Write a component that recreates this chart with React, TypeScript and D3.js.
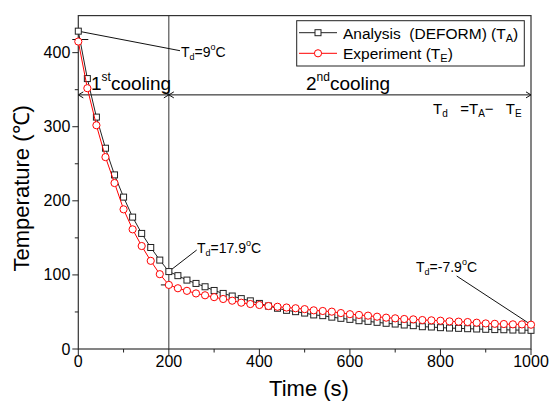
import React from "react";
import * as d3 from "d3";

const times = [0,20,40,60,80,100,120,140,160,180,200,220,240,260,280,300,320,340,360,380,400,420,440,460,480,500,520,540,560,580,600,620,640,660,680,700,720,740,760,780,800,820,840,860,880,900,920,940,960,980,1000];
const analysis = [429,365,313,271,235,205,178,156,137,120,104.5,99,93,88.5,84,79,75,71.5,68,65,61.5,58,55,52.2,50.4,48.5,46,45,43,41.4,40,38.2,37.3,36,34.7,33.7,32.4,31.5,30.1,29.7,28.8,28.3,27.9,27.4,27,26.6,26.2,26,25.6,25.5,25.2];
const experiment = [415,352,302,259,224,188.5,161.5,139,119,101,86.5,82,78.5,75,72.5,70,67.5,65.2,62.5,60.7,59.4,58,57,56,55,53.8,52.2,51.3,50.4,48.5,47,46,45,43.6,42.3,41.4,40.5,40,39.1,38.7,38.2,37.3,36.9,36.4,35.5,34.5,34,33.7,33.3,33.2,32.8];
const xTicks = [0,200,400,600,800,1000];
const xMinor = [100,300,500,700,900];
const yTicks = [0,100,200,300,400];
const yMinor = [50,150,250,350];

const FONT = "Liberation Sans, Arial, sans-serif";

export default function App() {
  const x = d3.scaleLinear().domain([0, 1000]).range([78.3, 531]);
  const y = d3.scaleLinear().domain([0, 450]).range([349, 15.6]);
  const left = x(0), right = x(1000), bottom = y(0), top = y(450);

  const lineGen = d3.line<number>().x((_, i) => x(times[i])).y((d) => y(d));

  const arrowY = y(343);
  const midX = x(200);
  const ah = 5, aw = 3;
  const arrowPath = [
    `M${left},${arrowY}H${right}`,
    `M${left + ah},${arrowY - aw}L${left},${arrowY}L${left + ah},${arrowY + aw}`,
    `M${midX - ah},${arrowY - aw}L${midX},${arrowY}L${midX - ah},${arrowY + aw}`,
    `M${midX + ah},${arrowY - aw}L${midX},${arrowY}L${midX + ah},${arrowY + aw}`,
    `M${right - ah},${arrowY - aw}L${right},${arrowY}L${right - ah},${arrowY + aw}`,
  ].join("");

  const sq = 6;
  const cr = 3.6;
  const pre = { whiteSpace: "pre" as const };

  return (
    <svg width={555} height={403} style={{ position: "absolute", left: 0, top: 0, background: "#fff" }} fontFamily={FONT}>
      {/* frame */}
      <rect x={left} y={top} width={right - left} height={bottom - top} fill="none" stroke="#333" strokeWidth={1.2} />
      {/* x ticks */}
      {xTicks.map((t) => (
        <g key={"xt" + t}>
          <line x1={x(t)} x2={x(t)} y1={bottom} y2={bottom + 6} stroke="#222" />
          <text x={x(t)} y={bottom + 18} fontSize={16} textAnchor="middle">{t}</text>
        </g>
      ))}
      {xMinor.map((t) => (
        <line key={"xm" + t} x1={x(t)} x2={x(t)} y1={bottom} y2={bottom + 3.5} stroke="#222" />
      ))}
      {yTicks.map((t) => (
        <g key={"yt" + t}>
          <line x1={left} x2={left - 6} y1={y(t)} y2={y(t)} stroke="#222" />
          <text x={left - 8} y={y(t) + 5.5} fontSize={16} textAnchor="end">{t}</text>
        </g>
      ))}
      {yMinor.map((t) => (
        <line key={"ym" + t} x1={left} x2={left - 3.5} y1={y(t)} y2={y(t)} stroke="#222" />
      ))}
      {/* axis titles */}
      <text x={309} y={396} fontSize={22} textAnchor="middle">Time (s)</text>
      <text transform={`translate(29,${(top + bottom) / 2 + 6}) rotate(-90)`} fontSize={22} textAnchor="middle">Temperature (℃)</text>

      {/* vertical line at 200 s */}
      <line x1={midX} x2={midX} y1={top} y2={bottom} stroke="#333" strokeWidth={1} />
      {/* double arrow */}
      <path d={arrowPath} fill="none" stroke="#111" strokeWidth={1} />

      {/* annotation leader lines */}
      <line x1={x(0)} y1={y(analysis[0])} x2={180} y2={50.7} stroke="#111" />
      <line x1={x(0) - 6} x2={x(0) + 10} y1={y(experiment[0]) - 2} y2={y(experiment[0]) - 2} stroke="#111" />
      <line x1={x(200)} y1={y(analysis[10])} x2={196.7} y2={250} stroke="#111" />
      <line x1={x(200) - 8} x2={x(200) + 2} y1={y(experiment[10])} y2={y(experiment[10])} stroke="#111" />
      <line x1={456.7} y1={276} x2={x(1000)} y2={y(experiment[50])} stroke="#111" />

      {/* series */}
      <path d={lineGen(analysis) || ""} fill="none" stroke="#222" strokeWidth={1} />
      {analysis.map((v, i) => (
        <rect key={"a" + i} x={x(times[i]) - sq / 2} y={y(v) - sq / 2} width={sq} height={sq} fill="#fff" stroke="#222" strokeWidth={1} />
      ))}
      <path d={lineGen(experiment) || ""} fill="none" stroke="#ff0000" strokeWidth={1} />
      {experiment.map((v, i) => (
        <circle key={"e" + i} cx={x(times[i])} cy={y(v)} r={cr} fill="#fff" stroke="#ff0000" strokeWidth={1} />
      ))}

      {/* texts */}
      <text x={91} y={90} fontSize={19}>
        1<tspan fontSize={12} dy={-9}>st</tspan><tspan dy={9}>cooling</tspan>
      </text>
      <text x={306} y={90} fontSize={19}>
        2<tspan fontSize={12} dy={-9}>nd</tspan><tspan dy={9}>cooling</tspan>
      </text>
      <text x={433} y={114} fontSize={15} style={pre}>
        T<tspan fontSize={10} dy={3}>d</tspan><tspan dy={-3}>{"   =T"}</tspan><tspan fontSize={10} dy={3}>A</tspan><tspan dy={-3}>{"−   T"}</tspan><tspan fontSize={10} dy={3}>E</tspan>
      </text>
      <text x={181} y={57} fontSize={14}>
        T<tspan fontSize={9} dy={3}>d</tspan><tspan dy={-3}>=9</tspan><tspan fontSize={9} dy={-7}>o</tspan><tspan dy={7}>C</tspan>
      </text>
      <text x={197} y={253} fontSize={14}>
        T<tspan fontSize={9} dy={3}>d</tspan><tspan dy={-3}>=17.9</tspan><tspan fontSize={9} dy={-7}>o</tspan><tspan dy={7}>C</tspan>
      </text>
      <text x={416} y={271.5} fontSize={14}>
        T<tspan fontSize={9} dy={3}>d</tspan><tspan dy={-3}>=-7.9</tspan><tspan fontSize={9} dy={-7}>o</tspan><tspan dy={7}>C</tspan>
      </text>

      {/* legend */}
      <rect x={296.7} y={20.7} width={227.6} height={45.3} fill="#fff" stroke="#222" strokeWidth={1} />
      <line x1={299} x2={337} y1={32.7} y2={32.7} stroke="#222" />
      <rect x={318 - sq / 2} y={32.7 - sq / 2} width={sq} height={sq} fill="#fff" stroke="#222" />
      <text x={343} y={39} fontSize={15.5} style={pre}>
        {"Analysis  (DEFORM) (T"}<tspan fontSize={11} dy={3}>A</tspan><tspan dy={-3}>)</tspan>
      </text>
      <line x1={299} x2={337} y1={53.3} y2={53.3} stroke="#ff0000" />
      <circle cx={318} cy={53.3} r={cr} fill="#fff" stroke="#ff0000" />
      <text x={343} y={58.5} fontSize={15.5}>
        {"Experiment (T"}<tspan fontSize={11} dy={3}>E</tspan><tspan dy={-3}>)</tspan>
      </text>
    </svg>
  );
}
